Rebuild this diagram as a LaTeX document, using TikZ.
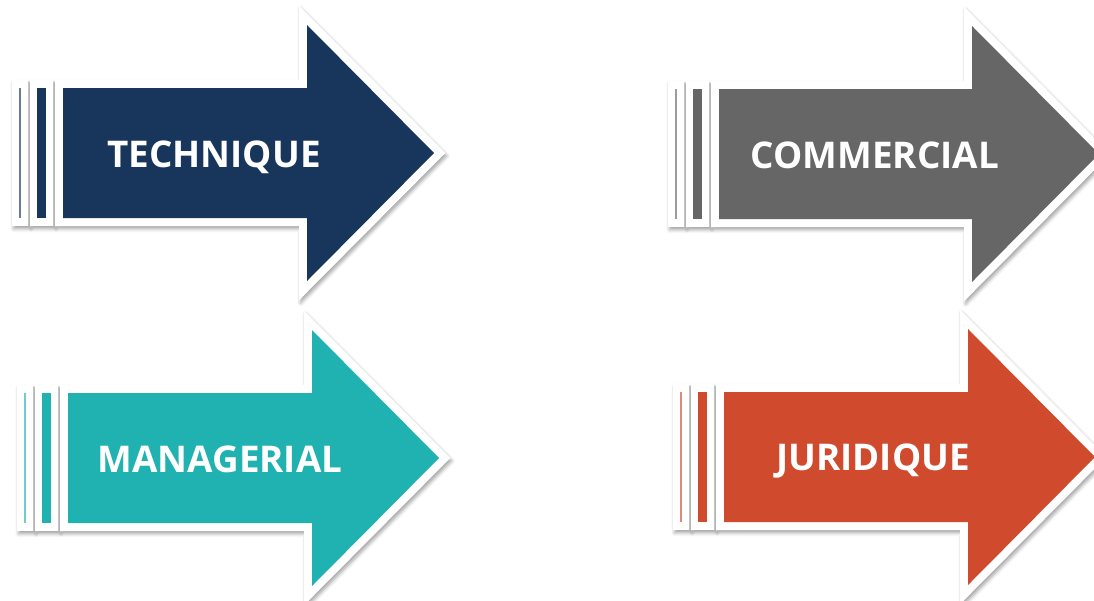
\documentclass[tikz,border=0pt]{standalone}
\usepackage{fontspec}
\setmainfont{Open Sans}
\usetikzlibrary{shadows.blur}
\definecolor{cnavy}{RGB}{24,54,92}
\definecolor{cgrey}{RGB}{102,102,102}
\definecolor{cteal}{RGB}{32,178,176}
\definecolor{corange}{RGB}{208,74,46}
\tikzset{
  whitepart/.style={fill=white, draw=none, blur shadow={shadow xshift=1.2pt, shadow yshift=-2.2pt, shadow blur radius=2.5pt, shadow opacity=35}},
  lbl/.style={text=white, font=\bfseries\fontsize{27.6}{30}\selectfont, inner sep=0pt, anchor=base},
}
% #1 xoff, #2 yoff, #3 colour, #4 extra body length
\newcommand\stripedarrow[4]{%
  \begin{scope}[shift={(#1,#2)}]
    \fill[whitepart] (12,80) rectangle (29,226);
    \fill[#3!65] (19.3,88) rectangle (20.7,218);
    \fill[whitepart] (30,80) rectangle (54,226);
    \fill[#3] (37,88) rectangle (46,218);
    \fill[whitepart] (55,80) -- (299+#4,80) -- (299+#4,5.7) -- (445.3+#4,153)
      -- (299+#4,300.3) -- (299+#4,226) -- (55,226) -- cycle;
    \fill[#3] (63,88) -- (307+#4,88) -- (307+#4,25) -- (434+#4,153)
      -- (307+#4,281) -- (307+#4,218) -- (63,218) -- cycle;
  \end{scope}}
\begin{document}
\begin{tikzpicture}[x=0.75pt,y=-0.75pt]
  \useasboundingbox (0,0) rectangle (1094,600);
  \stripedarrow{0}{0}{cnavy}{0}
  \stripedarrow{656}{1}{cgrey}{9}
  \stripedarrow{5}{305}{cteal}{0}
  \stripedarrow{661}{304}{corange}{0}
  \node[lbl] (technique) at (214,167) {TECHNIQUE};
  \node[lbl] (commercial) at (875,168) {COMMERCIAL};
  \node[lbl] (managerial) at (220,472) {MANAGERIAL};
  \node[lbl] (juridique) at (873,470) {JURIDIQUE};
\end{tikzpicture}
\end{document}
